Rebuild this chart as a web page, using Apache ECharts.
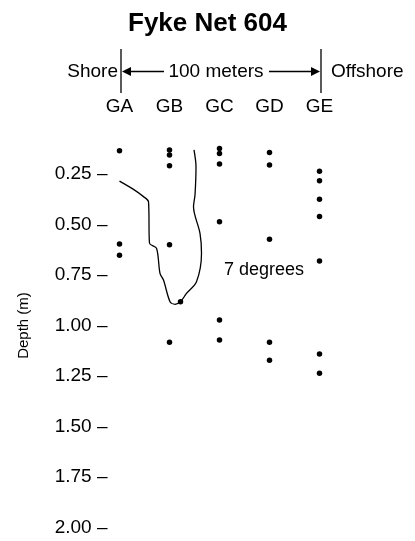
<!DOCTYPE html>
<html>
<head>
<meta charset="utf-8">
<title>Fyke Net 604</title>
<script src="https://cdn.jsdelivr.net/npm/echarts@6/dist/echarts.min.js"></script>
<style>
body{margin:0;background:#fff;}
#chart{width:415px;height:541px;}
</style>
</head>
<body>
<div id="chart"></div>
<script>
// stations along the transect, shore -> offshore
var stations = ['GA', 'GB', 'GC', 'GD', 'GE'];
var depthTicks = [0.25, 0.5, 0.75, 1.0, 1.25, 1.5, 1.75, 2.0];

// sampling depths (m) at each station
var depthsGA = [0.135, 0.597, 0.652];
var depthsGB = [0.131, 0.156, 0.209, 0.600, 1.083];
var depthsGC = [0.124, 0.148, 0.200, 0.486, 0.973, 1.072];
var depthsGD = [0.143, 0.205, 0.573, 1.083, 1.172];
var depthsGE = [0.237, 0.283, 0.375, 0.461, 0.681, 1.141, 1.237];

// 7 degree isotherm [station position, depth]
var isotherm = [
    [0.00, 0.285], [0.28, 0.326], [0.48, 0.362], [0.58, 0.387],
    [0.60, 0.593], [0.74, 0.618], [0.81, 0.742], [0.88, 0.775],
    [1.01, 0.882], [1.11, 0.895], [1.22, 0.882], [1.34, 0.841],
    [1.54, 0.783], [1.64, 0.643], [1.61, 0.544], [1.48, 0.412],
    [1.51, 0.354], [1.53, 0.214], [1.49, 0.131]
];
var isothermDot = [[1.22, 0.882]];
var isothermLabel = [[2.89, 0.725]];

var allDepths = [depthsGA, depthsGB, depthsGC, depthsGD, depthsGE];
var samplePoints = [];
allDepths.forEach(function(list, i){
    list.forEach(function(d){ samplePoints.push([i, d]); });
});

var font = 'Liberation Sans';
var chart = echarts.init(document.getElementById('chart'));

var option = {
    animation: false,
    backgroundColor: '#fff',
    textStyle: {fontFamily: font, color: '#000'},
    title: {
        text: 'Fyke Net 604',
        left: 'center',
        top: 6,
        textStyle: {fontFamily: font, fontSize: 26, fontWeight: 'bold', color: '#000'}
    },
    grid: {left: 119.5, right: 95.5, top: 123.5, bottom: 13.5},
    xAxis: {
        type: 'value',
        position: 'top',
        min: 0,
        max: 4,
        axisLine: {show: false},
        axisTick: {show: false},
        splitLine: {show: false},
        axisLabel: {
            customValues: [0, 1, 2, 3, 4],
            margin: 7,
            fontSize: 19,
            color: '#000',
            formatter: function(v){ return stations[v]; }
        }
    },
    yAxis: {
        type: 'value',
        inverse: true,
        min: 0,
        max: 2,
        offset: 11,
        name: 'Depth (m)',
        nameLocation: 'middle',
        nameRotate: 90,
        nameGap: 77,
        nameTextStyle: {fontSize: 15, color: '#000'},
        axisLine: {show: false},
        splitLine: {show: false},
        axisTick: {show: false},
        axisLabel: {
            customValues: depthTicks,
            margin: 1,
            fontSize: 19,
            color: '#000',
            // tick dash drawn right after the number, as in the source
            formatter: function(v){ return v.toFixed(2) + ' \u2013'; }
        }
    },
    graphic: [
        {type: 'line', shape: {x1: 121, y1: 49, x2: 121, y2: 93}, style: {stroke: '#000', lineWidth: 1.3}},
        {type: 'line', shape: {x1: 321, y1: 49, x2: 321, y2: 93}, style: {stroke: '#000', lineWidth: 1.3}},
        {type: 'line', shape: {x1: 128, y1: 71.5, x2: 164, y2: 71.5}, style: {stroke: '#000', lineWidth: 1.3}},
        {type: 'line', shape: {x1: 269, y1: 71.5, x2: 313, y2: 71.5}, style: {stroke: '#000', lineWidth: 1.3}},
        {type: 'polygon', shape: {points: [[122, 71.5], [131, 67], [131, 76]]}, style: {fill: '#000'}},
        {type: 'polygon', shape: {points: [[320, 71.5], [311, 67], [311, 76]]}, style: {fill: '#000'}},
        {type: 'text', x: 118, y: 71.5, style: {text: 'Shore', font: '19px "Liberation Sans"', fill: '#000', align: 'right', verticalAlign: 'middle'}},
        {type: 'text', x: 216, y: 71.5, style: {text: '100 meters', font: '19px "Liberation Sans"', fill: '#000', align: 'center', verticalAlign: 'middle'}},
        {type: 'text', x: 331, y: 71.5, style: {text: 'Offshore', font: '19px "Liberation Sans"', fill: '#000', align: 'left', verticalAlign: 'middle'}}
    ],
    series: [
        {
            type: 'line',
            data: isotherm,
            smooth: 0.3,
            clip: false,
            showSymbol: false,
            lineStyle: {color: '#000', width: 1.3}
        },
        {
            type: 'scatter',
            data: samplePoints,
            clip: false,
            symbolSize: 5.5,
            itemStyle: {color: '#000', opacity: 1}
        },
        {
            type: 'scatter',
            data: isothermDot,
            symbolSize: 5.5,
            itemStyle: {color: '#000', opacity: 1}
        },
        {
            type: 'scatter',
            data: isothermLabel,
            symbolSize: 0,
            itemStyle: {opacity: 1},
            label: {
                show: true,
                position: 'inside',
                formatter: '7 degrees',
                fontSize: 18,
                color: '#000',
                opacity: 1
            }
        }
    ]
};
chart.setOption(option);
</script>
</body>
</html>
